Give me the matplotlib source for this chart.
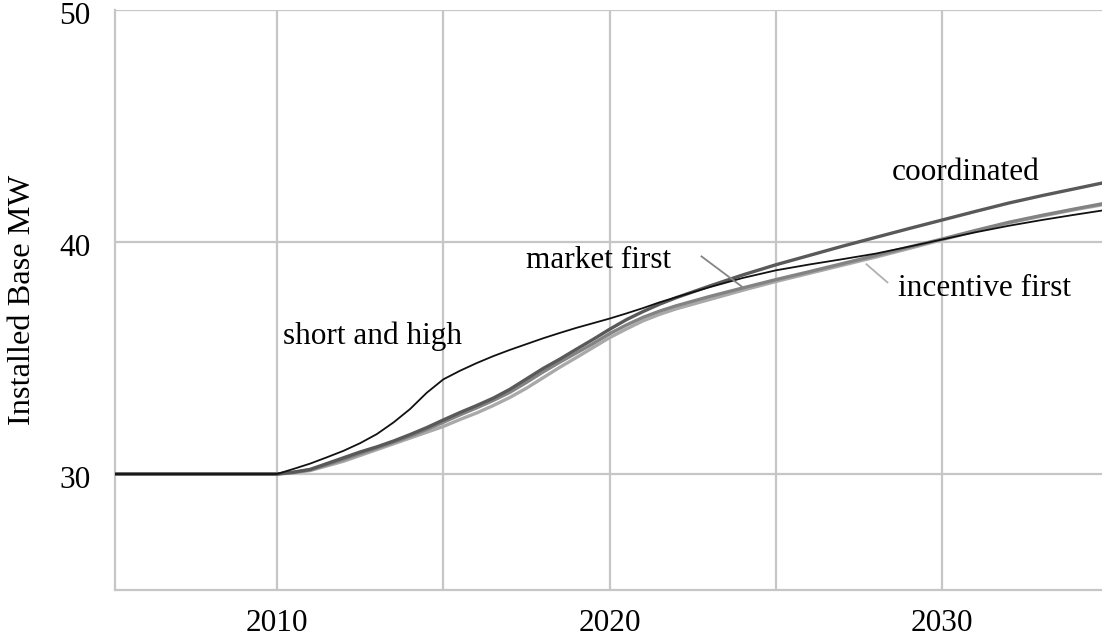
import matplotlib
matplotlib.use("Agg")
import matplotlib.pyplot as plt
import matplotlib.transforms as mtransforms

years = [2005, 2010, 2010.5, 2011, 2011.5, 2012, 2012.5, 2013, 2013.5, 2014, 2014.5, 2015, 2015.5,
         2016, 2016.5, 2017, 2017.5, 2018, 2018.5, 2019, 2019.5, 2020, 2020.5, 2021, 2021.5, 2022,
         2023, 2024, 2025, 2026, 2027, 2028, 2029, 2030, 2031, 2032, 2033, 2034, 2035]

short_and_high = [30.0, 30.0, 30.22, 30.45, 30.72, 31.0, 31.33, 31.72, 32.22, 32.8, 33.5, 34.08, 34.45,
                  34.78, 35.08, 35.35, 35.6, 35.85, 36.08, 36.3, 36.5, 36.7, 36.92, 37.15, 37.4, 37.62,
                  38.05, 38.45, 38.78, 39.03, 39.26, 39.5, 39.8, 40.11, 40.42, 40.7, 40.95, 41.18, 41.4]
coordinated = [30.0, 30.0, 30.08, 30.2, 30.45, 30.7, 30.95, 31.17, 31.42, 31.7, 32.0, 32.33, 32.65,
               32.95, 33.27, 33.65, 34.1, 34.55, 34.95, 35.38, 35.8, 36.24, 36.65, 37.0, 37.32, 37.6,
               38.1, 38.58, 39.02, 39.42, 39.82, 40.2, 40.58, 40.95, 41.32, 41.68, 42.0, 42.3, 42.6]
market_first = [30.0, 30.0, 30.07, 30.18, 30.4, 30.63, 30.88, 31.12, 31.37, 31.63, 31.92, 32.23, 32.55,
                32.85, 33.17, 33.52, 33.95, 34.4, 34.82, 35.22, 35.62, 36.05, 36.42, 36.75, 37.02, 37.25,
                37.65, 38.02, 38.38, 38.72, 39.07, 39.42, 39.78, 40.13, 40.5, 40.85, 41.15, 41.43, 41.7]
incentive_first = [30.0, 30.0, 30.05, 30.15, 30.35, 30.55, 30.8, 31.05, 31.3, 31.55, 31.8, 32.05, 32.35,
                   32.63, 32.95, 33.3, 33.7, 34.15, 34.6, 35.02, 35.45, 35.88, 36.25, 36.6, 36.88, 37.12,
                   37.52, 37.92, 38.3, 38.65, 39.0, 39.35, 39.72, 40.1, 40.47, 40.82, 41.12, 41.4, 41.65]

x_ticks = [2010, 2020, 2030]
x_grid = [2015, 2025]
y_ticks = [30, 40, 50]

plt.rcParams['font.family'] = ['Liberation Serif', 'DejaVu Serif']

fig = plt.figure(figsize=(11.02, 6.37), dpi=100)
ax = fig.add_axes([115 / 1102, 47 / 637, 1 - 115 / 1102, 580 / 637])

grid_c = '#c6c6c6'
ax.plot(years, incentive_first, color='#a9a9a9', lw=2.4, zorder=3)
ax.plot(years, market_first, color='#838383', lw=2.4, zorder=4)
ax.plot(years, coordinated, color='#595959', lw=2.4, zorder=5)
ax.plot(years, short_and_high, color='#111111', lw=1.3, zorder=6)

ax.set_xlim(2005.13, 2034.8)
ax.set_ylim(25, 50)
ax.set_xticks(x_ticks)
ax.set_xticks(x_grid, minor=True)
ax.set_yticks(y_ticks)
ax.grid(True, which='both', axis='x', color=grid_c, lw=1.6, zorder=1)
ax.grid(True, which='major', axis='y', color=grid_c, lw=1.6, zorder=1)
ax.tick_params(which='both', length=0)
ax.tick_params(axis='y', pad=17.5, labelsize=22.5)
ax.tick_params(axis='x', pad=13.5, labelsize=22.5)
shift = mtransforms.ScaledTranslation(0, -3 / 100, fig.dpi_scale_trans)
for lab in ax.get_yticklabels():
    lab.set_transform(lab.get_transform() + shift)
for s in ['top', 'right']:
    ax.spines[s].set_visible(False)
for s in ['left', 'bottom']:
    ax.spines[s].set_color(grid_c)
    ax.spines[s].set_linewidth(1.6)
ax.set_ylabel('Installed Base MW', fontsize=23.3, labelpad=16)

fs = 22.5
ax.text(2010.18, 35.6, 'short and high', fontsize=fs, va='baseline', ha='left', zorder=7)
ax.text(2017.5, 38.9, 'market first', fontsize=fs, va='baseline', ha='left', zorder=7)
ax.text(2028.47, 42.69, 'coordinated', fontsize=fs, va='baseline', ha='left', zorder=7)
ax.text(2028.67, 37.66, 'incentive first', fontsize=fs, va='baseline', ha='left', zorder=7)
ax.plot([2022.76, 2024.0], [39.38, 38.05], color='#858585', lw=1.3, zorder=7)
ax.plot([2027.72, 2028.35], [39.04, 38.26], color='#b0b0b0', lw=1.3, zorder=7)

fig.savefig('out.png', dpi=100)
